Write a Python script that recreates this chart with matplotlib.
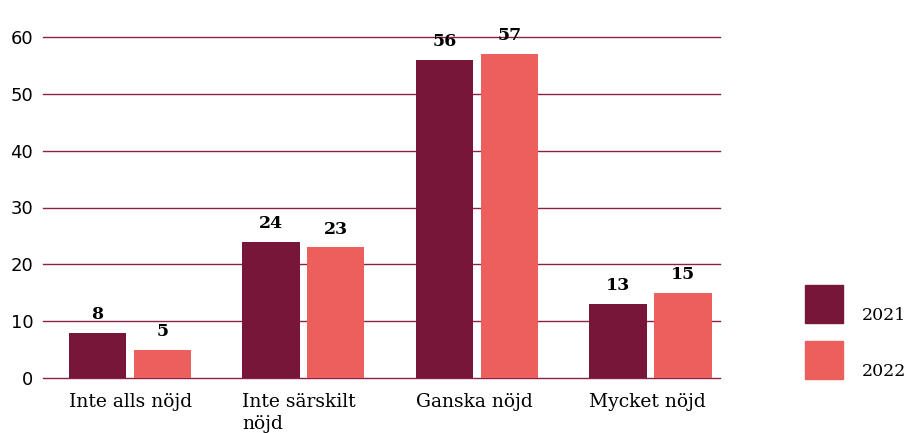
import matplotlib.pyplot as plt
import numpy as np
from matplotlib.patches import Rectangle

categories = ["Inte alls nöjd", "Inte särskilt\nnöjd", "Ganska nöjd", "Mycket nöjd"]
years = ["2021", "2022"]
values_2021 = [8, 24, 56, 13]
values_2022 = [5, 23, 57, 15]
yticks = [0, 10, 20, 30, 40, 50, 60]

c21 = "#771638"
c22 = "#ec5f5d"
grid_c = "#8c2148"

W, H = 912, 433
fig = plt.figure(figsize=(W / 100, H / 100), dpi=100)
ax = fig.add_axes([43 / W, 1 - 378 / H, 677 / W, 341 / H])

x = np.arange(len(categories))
w = 0.33
off = 0.187
b1 = ax.bar(x - off, values_2021, w, color=c21, zorder=3)
b2 = ax.bar(x + off, values_2022, w, color=c22, zorder=3)

for bars in (b1, b2):
    for r in bars:
        ax.annotate(f"{int(r.get_height())}", (r.get_x() + r.get_width() / 2, r.get_height()),
                    xytext=(0, 7), textcoords="offset points", ha="center", va="bottom",
                    fontsize=12.5, fontweight="bold", family="DejaVu Serif", clip_on=False)

ax.set_xlim(-0.5, 3.40)
ax.set_ylim(0, 60)
ax.set_yticks(yticks)
for yv in yticks:
    ax.axhline(yv, color=grid_c, linewidth=1, zorder=1, clip_on=False)
ax.tick_params(axis="y", length=0, pad=7, labelsize=13)
for lab in ax.get_yticklabels():
    lab.set_family("DejaVu Sans")
for s in ax.spines.values():
    s.set_visible(False)

ax.set_xticks([])
for i, cat in enumerate(categories):
    ax.text(i - off - w / 2, -2.6, cat, ha="left", va="top", fontsize=13.5,
            family="DejaVu Serif", linespacing=1.3)

# legend drawn as squares + labels
for j, (yr, col) in enumerate(zip(years, [c21, c22])):
    top = 285 + j * 56
    fig.patches.append(Rectangle((805 / W, 1 - (top + 38) / H), 38 / W, 38 / H,
                                 color=col, transform=fig.transFigure))
    fig.text(862 / W, 1 - (top + 31) / H, yr, ha="left", va="center",
             fontsize=12.5, family="DejaVu Serif")

fig.savefig("out.png", dpi=100)
